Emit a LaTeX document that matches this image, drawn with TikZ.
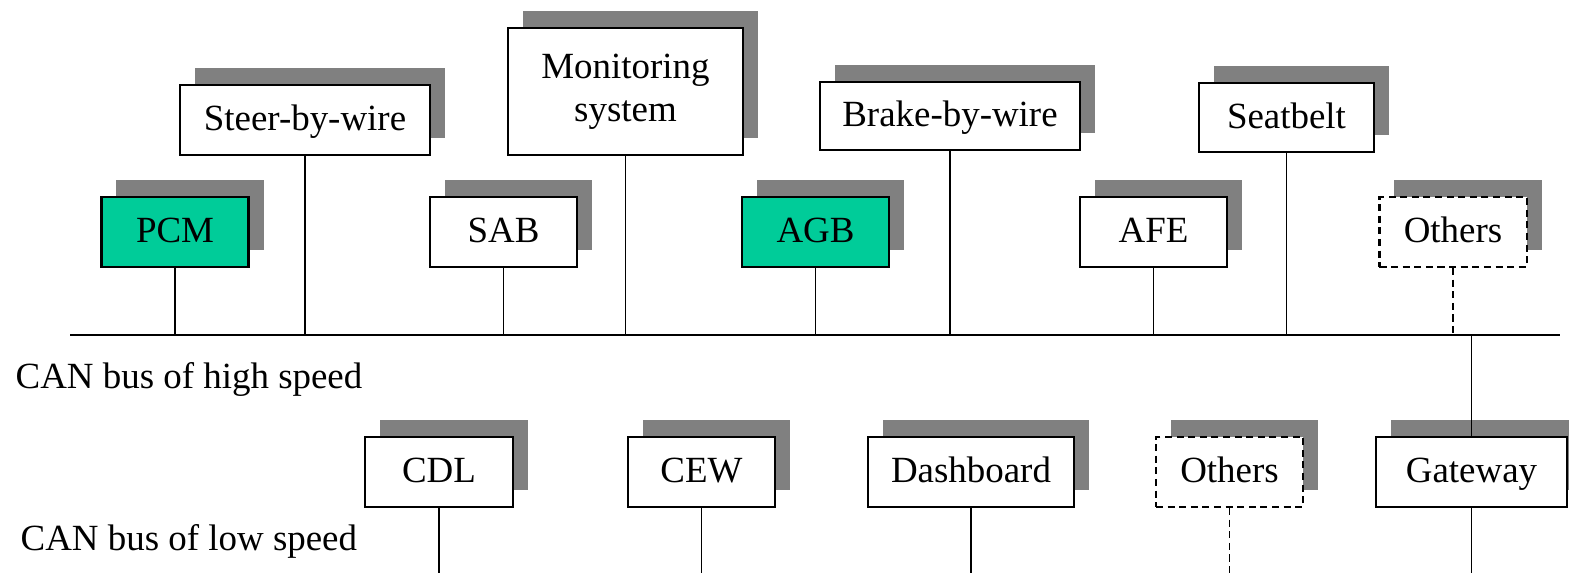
\documentclass[tikz,border=0pt]{standalone}
\usepackage{fontspec}
\setmainfont{Liberation Serif}
\usetikzlibrary{shadows, positioning, calc}
\definecolor{ecugreen}{RGB}{0,204,153}
\definecolor{shadowgray}{RGB}{128,128,128}

\begin{document}
\begin{tikzpicture}[x=0.01cm, y=-0.01cm,
    ecu/.style={rectangle, 
      draw, 
      line width=0.6pt, 
      fill=white, 
      inner sep=0pt, 
      minimum width=#1, 
      minimum height=0.70cm, 
      text height=0.28cm, 
      text depth=0.07cm, 
      align=center, 
      font=\fontsize{10.5}{12.3}\selectfont, 
      general shadow={fill=shadowgray, shadow xshift=0.15cm, shadow yshift=0.17cm}},
    ecu/.default=1.47cm,
    optional/.style={dash pattern=on 2pt off 1.3pt},
    wire/.style={line width=0.45pt},
    bus/.style={line width=0.75pt},
    buslabel/.style={anchor=base west, inner sep=0pt, font=\fontsize{10.5}{12.3}\selectfont}]

  \useasboundingbox (0,0) rectangle (1569,573);

% HIGH SPEED NODES

  \node [ecu=2.50cm] (steer) at (305,120) {Steer-by-wire};
  \node [ecu=2.35cm, 
    minimum height=1.27cm, 
    text height={}, 
    text depth={}] (monitor) at (625.5,91.5) {Monitoring\\system};
  \node [ecu=2.60cm, minimum height=0.68cm] (brake) at (950,116) {Brake-by-wire};
  \node [ecu=1.75cm, minimum height=0.69cm] (seat) at (1286.5,117.5) {Seatbelt};

  \node [ecu, fill=ecugreen] (pcm) at (175,232) {PCM};
  \node [ecu] (sab) at (503.5,232) {SAB};
  \node [ecu, fill=ecugreen] (agb) at (815.5,232) {AGB};
  \node [ecu] (afe) at (1153.5,232) {AFE};
  \node [ecu, optional] (othersH) at (1453,232) {Others};

% LOW SPEED NODES

  \node [ecu=1.48cm] (cdl) at (439,472) {CDL};
  \node [ecu] (cew) at (701.5,472) {CEW};
  \node [ecu=2.06cm] (dashboard) at (971,472) {Dashboard};
  \node [ecu, optional] (othersL) at (1229.5,472) {Others};
  \node [ecu=1.91cm] (gateway) at (1471.5,472) {Gateway};

% BUSES

  \coordinate (highW) at (70,335);
  \coordinate (highE) at (1560,335);
  \coordinate (lowW) at (0,575);

  \draw[bus] (highW) -- (highE);

  \node [buslabel] (highlabel) at (15,388) {CAN bus of high speed};
  \node [buslabel] (lowlabel) at (20,550) {CAN bus of low speed};

  \foreach \n in {pcm, steer, sab, monitor, agb, brake, afe, seat}
    \draw[wire] (\n.south) -- (\n.south |- highW);
  \draw[wire, optional] (othersH.south) -- (othersH.south |- highW);
  \draw[wire] (gateway.north) -- (gateway.north |- highW);

  \foreach \n in {cdl, cew, dashboard, gateway}
    \draw[wire] (\n.south) -- (\n.south |- lowW);
  \draw[wire, optional] (othersL.south) -- (othersL.south |- lowW);

\end{tikzpicture}
\end{document}
